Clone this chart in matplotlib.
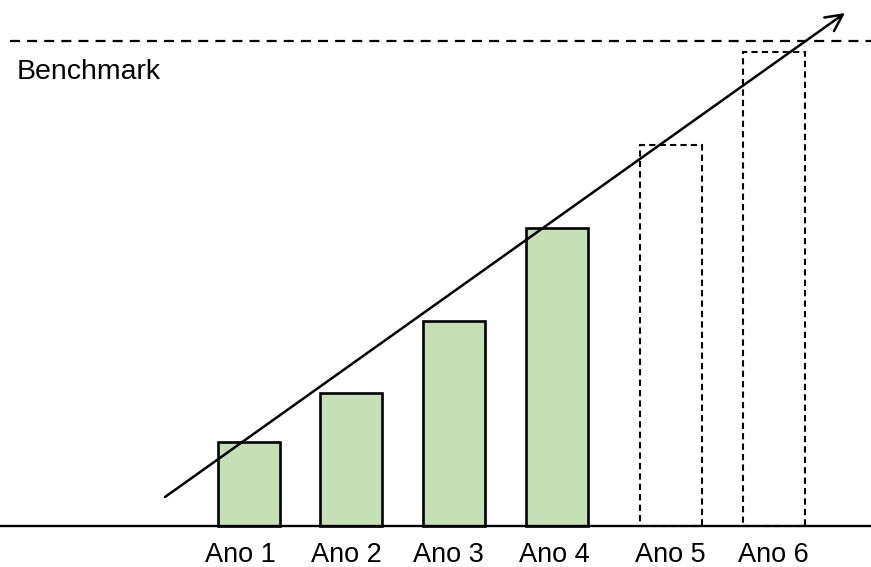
import matplotlib
matplotlib.use("Agg")
import matplotlib.pyplot as plt

plt.rcParams['font.family'] = ['Liberation Sans', 'DejaVu Sans']

categories = ["Ano 1", "Ano 2", "Ano 3", "Ano 4", "Ano 5", "Ano 6"]
values = [84, 133, 205, 298, 381, 474]
projected = [False, False, False, False, True, True]
benchmark = 485

# layout (x centres of bars and of their labels in axis units, bar width)
x_pos = [248.5, 351, 453.5, 557, 671, 773.5]
label_x = [240, 346, 448, 554, 670, 773]
bar_w = 62

fig = plt.figure(figsize=(8.71, 5.67), dpi=100)
ax = fig.add_axes([0, 0, 1, 1])
ax.set_xlim(0, 871)
ax.set_ylim(-41, 526)
ax.axis("off")

for x, lx, v, p, lab in zip(x_pos, label_x, values, projected, categories):
    if p:
        ax.bar(x, v, width=bar_w, bottom=0, facecolor="none", edgecolor="black",
               linewidth=1.5, linestyle=(0, (3, 2)), zorder=2)
    else:
        ax.bar(x, v, width=bar_w, bottom=0, facecolor="#C5E0B4", edgecolor="black",
               linewidth=1.9, zorder=2)
    ax.text(lx, -29, lab, ha="center", va="center", fontsize=19.5)

# baseline
ax.axhline(0, color="black", linewidth=1.7, zorder=3)

# benchmark line and label
ax.plot([10, 871], [benchmark, benchmark], color="black", linewidth=1.6,
        linestyle=(0, (4.5, 3.2)), zorder=3)
ax.text(17, benchmark - 31, "Benchmark", ha="left", va="center", fontsize=20.5)

# trend arrow
ax.annotate("", xy=(845, 513), xytext=(165, 29),
            arrowprops=dict(arrowstyle="->", color="black", lw=1.8,
                            mutation_scale=30, shrinkA=0, shrinkB=0),
            zorder=4)

fig.savefig("out.png", dpi=100)
